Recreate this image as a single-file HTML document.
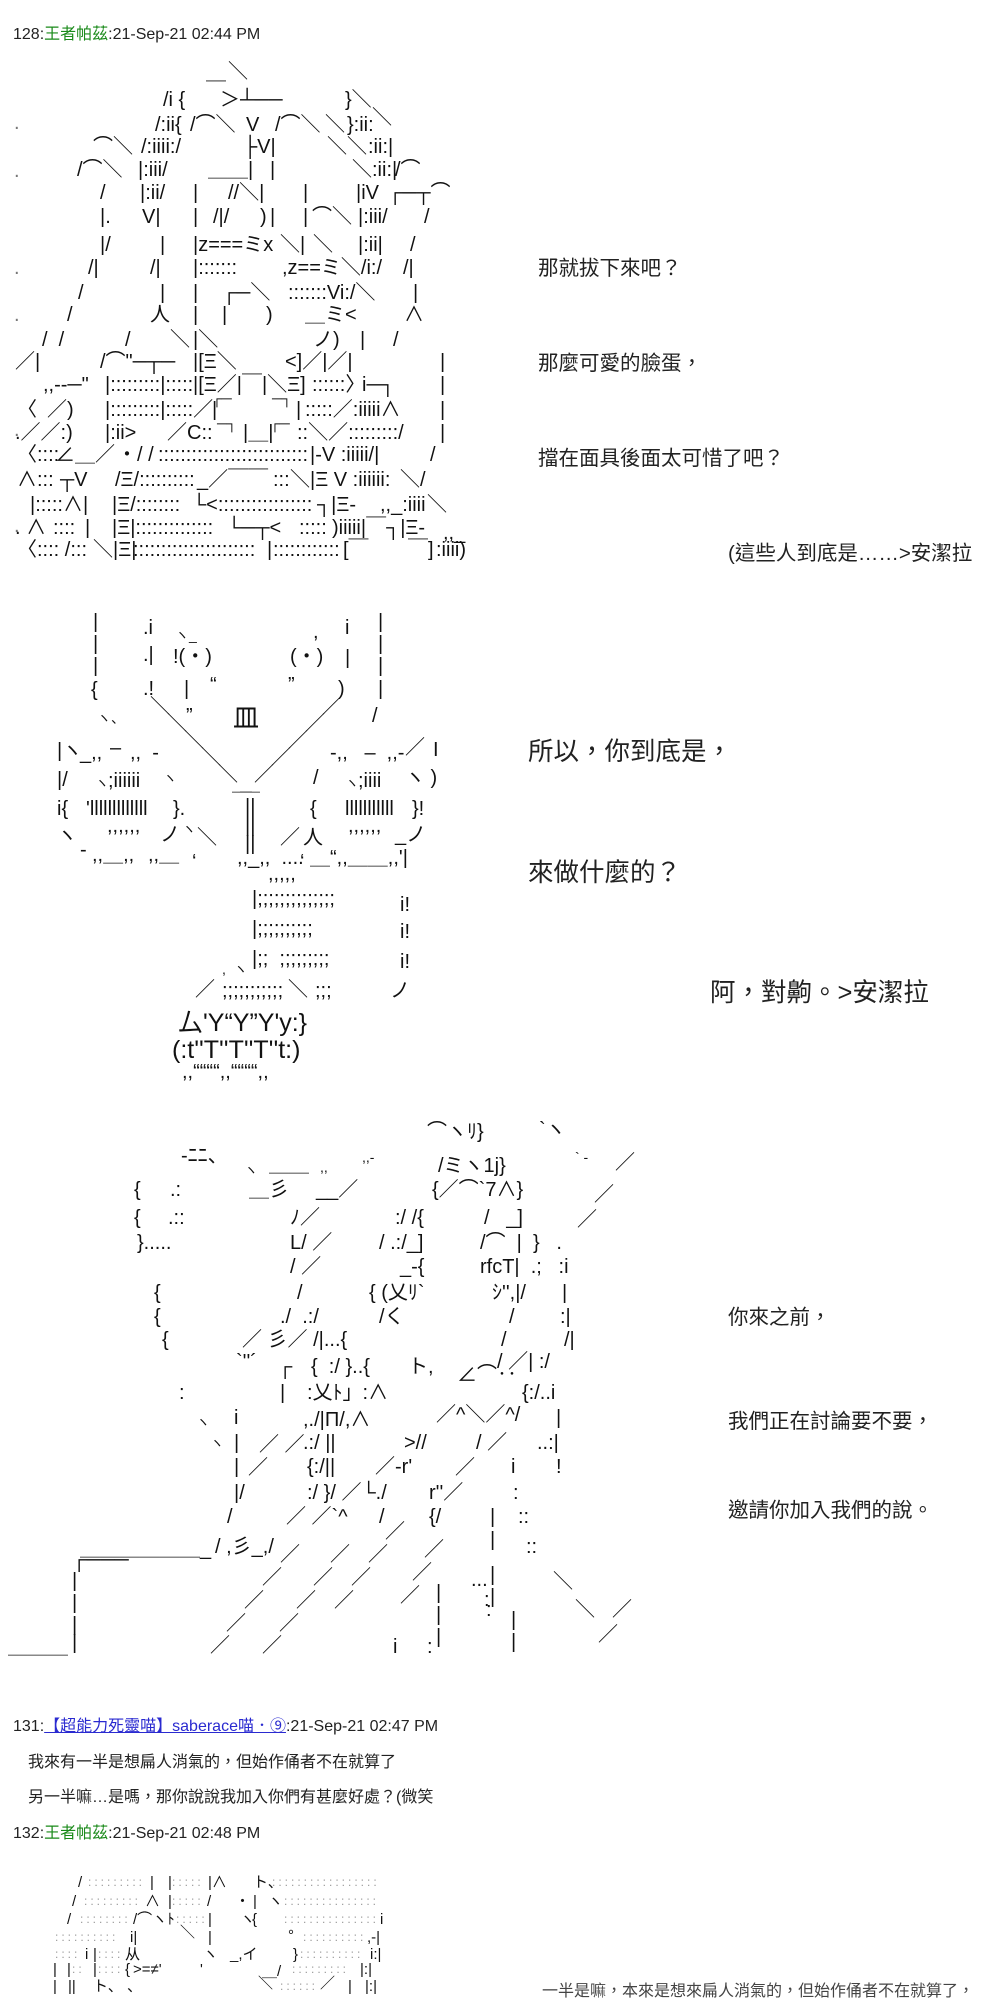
<!DOCTYPE html>
<html><head><meta charset="utf-8">
<style>
html,body{margin:0;padding:0;background:#fff}
#c{position:relative;width:1000px;height:2000px;overflow:hidden;background:#fff}
#c b{position:absolute;white-space:pre;font-weight:normal;line-height:1;font-size:20px;font-family:"Liberation Sans","Noto Sans CJK JP",sans-serif;color:#111}
#c b.s{font-size:14px}
#c b.dt{color:#777}
#c b.y{font-size:25px}
#c b.big{font-size:26px}
#c b.m{font-size:15px}
#c b.d{font-size:12px;color:#999;letter-spacing:3px}
#c b.h{font-size:16px;color:#222;font-family:"Liberation Sans","Noto Sans CJK TC",sans-serif}
#c b.p{font-size:16px;color:#222;font-family:"Liberation Sans","Noto Sans CJK TC",sans-serif}
#c b.c20{font-size:20.5px;color:#222;font-family:"Liberation Sans","Noto Sans CJK TC",sans-serif}
#c b.c26{font-size:25.5px;color:#222;font-family:"Liberation Sans","Noto Sans CJK TC",sans-serif}
#c b.c16{font-size:16px;color:#444;font-family:"Liberation Sans","Noto Sans CJK TC",sans-serif}
.g{color:#1a8a1a}
.lk{color:#2a2ad0;text-decoration:underline}
</style></head><body><div id="c">

<b class="h" style="left:13px;top:27px">128:<span class="g">王者帕茲</span>:21-Sep-21 02:44 PM</b>

<!-- Panel 1 AA -->
<b class="dt" style="left:14px;top:113px">.</b>
<b class="dt" style="left:14px;top:161px">.</b>
<b class="dt" style="left:14px;top:258px">.</b>
<b class="dt" style="left:14px;top:305px">.</b>
<b class="dt" style="left:14px;top:420px">.</b>
<b class="dt" style="left:14px;top:516px">.</b>
<b style="left:228px;top:62px">＼</b>
<b style="left:206px;top:82px">￣</b>
<b style="left:163px;top:90px">/i {</b>
<b style="left:220px;top:90px">＞┴──</b>
<b style="left:345px;top:90px">}＼</b>
<b style="left:155px;top:115px">/:ii{</b>
<b style="left:190px;top:115px">/⌒＼</b>
<b style="left:246px;top:115px">V</b>
<b style="left:275px;top:115px">/⌒＼</b>
<b style="left:325px;top:115px">＼</b>
<b style="left:347px;top:115px">}:ii:</b>
<b style="left:372px;top:108px">＼</b>
<b style="left:93px;top:137px">⌒＼</b>
<b style="left:141px;top:137px">/:iiii:/</b>
<b style="left:243px;top:137px">├V|</b>
<b style="left:327px;top:137px">＼＼</b>
<b style="left:368px;top:137px">:ii:|</b>
<b style="left:77px;top:160px">/⌒＼</b>
<b style="left:138px;top:160px">|:iii/</b>
<b style="left:208px;top:160px">＿＿|</b>
<b style="left:270px;top:160px">|</b>
<b style="left:352px;top:160px">＼:ii:|</b>
<b style="left:395px;top:160px">/⌒</b>
<b style="left:100px;top:183px">/</b>
<b style="left:140px;top:183px">|:ii/</b>
<b style="left:193px;top:183px">|</b>
<b style="left:228px;top:183px">//＼|</b>
<b style="left:303px;top:183px">|</b>
<b style="left:356px;top:183px">|iV</b>
<b style="left:388px;top:183px">┌─┬⌒</b>
<b style="left:100px;top:207px">|.</b>
<b style="left:142px;top:207px">V|</b>
<b style="left:193px;top:207px">|</b>
<b style="left:213px;top:207px">/|/</b>
<b style="left:260px;top:207px">)</b>
<b style="left:270px;top:207px">|</b>
<b style="left:303px;top:207px">|</b>
<b style="left:312px;top:207px">⌒＼</b>
<b style="left:358px;top:207px">|:iii/</b>
<b style="left:424px;top:207px">/</b>
<b style="left:100px;top:235px">|/</b>
<b style="left:160px;top:235px">|</b>
<b style="left:193px;top:235px">|z===ミx</b>
<b style="left:280px;top:235px">＼|</b>
<b style="left:313px;top:235px">＼</b>
<b style="left:358px;top:235px">|:ii|</b>
<b style="left:410px;top:235px">/</b>
<b style="left:88px;top:258px">/|</b>
<b style="left:150px;top:258px">/|</b>
<b style="left:193px;top:258px">|:::::::</b>
<b style="left:282px;top:258px">,z==ミ＼/i:/</b>
<b style="left:403px;top:258px">/|</b>
<b style="left:78px;top:283px">/</b>
<b style="left:160px;top:283px">|</b>
<b style="left:193px;top:283px">|</b>
<b style="left:222px;top:283px">┌─＼</b>
<b style="left:288px;top:283px">:::::::Vi:/＼</b>
<b style="left:413px;top:283px">|</b>
<b style="left:67px;top:305px">/</b>
<b style="left:150px;top:305px">人</b>
<b style="left:193px;top:305px">|</b>
<b style="left:222px;top:305px">|</b>
<b style="left:266px;top:305px">)</b>
<b style="left:305px;top:305px">＿ミ&lt;</b>
<b style="left:404px;top:305px">∧</b>
<b style="left:42px;top:330px">/  /</b>
<b style="left:125px;top:330px">/</b>
<b style="left:170px;top:330px">＼</b>
<b style="left:193px;top:330px">|＼</b>
<b style="left:313px;top:330px">ノ)</b>
<b style="left:360px;top:330px">|</b>
<b style="left:393px;top:330px">/</b>
<b style="left:15px;top:352px">／|</b>
<b style="left:100px;top:352px">/⌒"─┬─</b>
<b style="left:193px;top:352px">|[Ξ＼</b>
<b style="left:285px;top:352px">&lt;]／|／|</b>
<b style="left:440px;top:352px">|</b>
<b style="left:43px;top:375px">,,-‐─"</b>
<b style="left:105px;top:375px">|:::::::::|:::::</b>
<b style="left:193px;top:375px">|[Ξ／|￣|＼Ξ]</b>
<b style="left:312px;top:375px">::::::〉</b>
<b style="left:362px;top:375px">i─┐</b>
<b style="left:440px;top:375px">|</b>
<b style="left:17px;top:400px">〈</b>
<b style="left:47px;top:400px">／)</b>
<b style="left:105px;top:400px">|:::::::::|:::::／</b>
<b class="s" style="left:212px;top:391px">┌─</b>
<b class="s" style="left:272px;top:391px">─┐</b>
<b style="left:212px;top:400px">|</b>
<b style="left:296px;top:400px">|</b>
<b style="left:305px;top:400px">:::::／:iiiii∧</b>
<b style="left:440px;top:400px">|</b>
<b style="left:15px;top:423px">.／／:)</b>
<b style="left:105px;top:423px">|:ii&gt;</b>
<b style="left:167px;top:423px">／C::</b>
<b class="s" style="left:217px;top:416px">─┐</b>
<b style="left:243px;top:423px">|＿|</b>
<b class="s" style="left:270px;top:416px">┌─</b>
<b style="left:297px;top:423px">::＼／:::::::::/</b>
<b style="left:440px;top:423px">|</b>
<b style="left:17px;top:445px">〈::::</b>
<b style="left:55px;top:445px">∠＿／</b>
<b style="left:117px;top:445px">・/ /</b>
<b style="left:158px;top:445px">:::::::::::::::::::::::::::</b>
<b style="left:310px;top:445px">|-V :iiiii/|</b>
<b style="left:430px;top:445px">/</b>
<b style="left:17px;top:470px">∧:::</b>
<b style="left:60px;top:470px">┬V</b>
<b style="left:115px;top:470px">/Ξ/::::::::::</b>
<b style="left:197px;top:470px">_／￣￣</b>
<b style="left:273px;top:470px">:::</b>
<b style="left:290px;top:470px">＼|Ξ V :iiiiii:</b>
<b style="left:400px;top:470px">＼/</b>
<b style="left:30px;top:495px">|:::::∧|</b>
<b style="left:112px;top:495px">|Ξ/::::::::</b>
<b style="left:192px;top:495px">└&lt;:::::::::::::::::</b>
<b style="left:317px;top:495px">┐|Ξ-</b>
<b style="left:380px;top:495px">,,_:iiii</b>
<b style="left:427px;top:495px">＼</b>
<b style="left:15px;top:518px">. ∧</b>
<b style="left:53px;top:518px">::::</b>
<b style="left:85px;top:518px">|</b>
<b style="left:112px;top:518px">|Ξ|::::::::::::::</b>
<b style="left:227px;top:518px">└─┬&lt;</b>
<b style="left:299px;top:518px">:::::</b>
<b style="left:332px;top:518px">)iiiii|￣┐|Ξ-</b>
<b style="left:443px;top:523px">,,_</b>
<b style="left:17px;top:540px">〈:::: /:::</b>
<b style="left:93px;top:540px">＼|Ξ|</b>
<b style="left:133px;top:540px">::::::::::::::::::::::</b>
<b style="left:267px;top:540px">|</b>
<b style="left:273px;top:540px">::::::::::::</b>
<b style="left:343px;top:540px">[￣</b>
<b style="left:408px;top:540px">￣]</b>
<b style="left:436px;top:540px">:iiii)</b>

<b class="c20" style="left:538px;top:259px">那就拔下來吧？</b>
<b class="c20" style="left:538px;top:354px">那麼可愛的臉蛋，</b>
<b class="c20" style="left:538px;top:449px">擋在面具後面太可惜了吧？</b>
<b class="c20" style="left:728px;top:544px">(這些人到底是……&gt;安潔拉</b>

<!-- Panel 2 AA -->
<b style="left:93px;top:612px">|</b>
<b style="left:93px;top:634px">|</b>
<b style="left:93px;top:656px">|</b>
<b style="left:91px;top:680px">{</b>
<b style="left:378px;top:612px">|</b>
<b style="left:378px;top:634px">|</b>
<b style="left:378px;top:656px">|</b>
<b style="left:378px;top:679px">|</b>
<b style="left:372px;top:706px">/</b>
<b style="left:143px;top:618px">.i</b>
<b style="left:143px;top:645px">.|</b>
<b style="left:143px;top:679px">.!</b>
<b class="s" style="left:175px;top:628px">ヽ_</b>
<b style="left:173px;top:647px">!(・)</b>
<b style="left:184px;top:679px">|</b>
<b style="left:210px;top:675px">“</b>
<b style="left:186px;top:706px">”</b>
<b style="left:313px;top:622px">,</b>
<b style="left:290px;top:647px">(・)</b>
<b style="left:288px;top:675px">”</b>
<b style="left:345px;top:618px">i</b>
<b style="left:345px;top:648px">|</b>
<b style="left:338px;top:679px">)</b>
<b class="s" style="left:97px;top:711px">ヽ、</b>
<b class="big" style="left:233px;top:705px">皿</b>
<b style="left:150px;top:697px">＼</b>
<b style="left:167px;top:714px">＼</b>
<b style="left:184px;top:731px">＼</b>
<b style="left:201px;top:748px">＼</b>
<b style="left:218px;top:765px">＼</b>
<b style="left:322px;top:697px">／</b>
<b style="left:305px;top:714px">／</b>
<b style="left:288px;top:731px">／</b>
<b style="left:271px;top:748px">／</b>
<b style="left:254px;top:765px">／</b>
<b style="left:232px;top:774px">＿</b>
<b style="left:240px;top:774px">＿</b>
<b style="left:245px;top:797px">||</b>
<b style="left:245px;top:816px">||</b>
<b style="left:245px;top:834px">||</b>
<b style="left:197px;top:828px">＼</b>
<b style="left:280px;top:828px">／</b>
<b style="left:57px;top:741px">|ヽ</b>
<b style="left:80px;top:743px">_,,</b>
<b style="left:110px;top:738px">–</b>
<b style="left:130px;top:743px">,,  -</b>
<b style="left:57px;top:770px">|/</b>
<b class="s" style="left:95px;top:776px">ヽ</b>
<b style="left:108px;top:771px">;iiiiii</b>
<b class="s" style="left:163px;top:771px">ヽ</b>
<b style="left:57px;top:799px">i{</b>
<b style="left:86px;top:799px">'lllllllllllll</b>
<b style="left:173px;top:799px">}.</b>
<b style="left:57px;top:826px">ヽ</b>
<b style="left:107px;top:816px">,,,,,,</b>
<b style="left:160px;top:825px">ノ</b>
<b class="s" style="left:182px;top:822px">ヽ</b>
<b style="left:80px;top:840px">-</b>
<b style="left:92px;top:845px">,,＿,,</b>
<b style="left:148px;top:845px">,,＿</b>
<b style="left:192px;top:852px">‘</b>
<b style="left:330px;top:743px">-,,   –  ,,-</b>
<b style="left:405px;top:738px">／</b>
<b style="left:433px;top:740px">I</b>
<b style="left:313px;top:768px">/</b>
<b class="s" style="left:345px;top:776px">ヽ</b>
<b style="left:358px;top:771px">;iiii</b>
<b style="left:405px;top:768px">ヽ )</b>
<b style="left:310px;top:799px">{</b>
<b style="left:345px;top:799px">lllllllllll</b>
<b style="left:412px;top:799px">}!</b>
<b style="left:303px;top:828px">人</b>
<b style="left:348px;top:816px">,,,,,,</b>
<b style="left:395px;top:825px">_ノ</b>
<b style="left:237px;top:848px">,,_,,  ....</b>
<b style="left:300px;top:852px">‘</b>
<b style="left:310px;top:848px">＿“,,＿＿,,'|</b>
<b style="left:268px;top:864px">,,,,,</b>
<b style="left:252px;top:889px">|;;;;;;;;;;;;;;</b>
<b style="left:252px;top:919px">|;;;;;;;;;;</b>
<b style="left:252px;top:949px">|;;  ;;;;;;;;;</b>
<b style="left:400px;top:895px">i!</b>
<b style="left:400px;top:922px">i!</b>
<b style="left:400px;top:952px">i!</b>
<b style="left:390px;top:981px">ノ</b>
<b class="s" style="left:222px;top:962px">,  ヽ</b>
<b style="left:195px;top:980px">／</b>
<b style="left:222px;top:981px">;;;;;;;;;;;</b>
<b style="left:288px;top:980px">＼</b>
<b style="left:315px;top:981px">;;;</b>
<b class="y" style="left:178px;top:1011px">厶'Y“Y”Y'y:}</b>
<b class="y" style="left:172px;top:1038px">(:t''T''T''T''t:)</b>
<b style="left:182px;top:1062px">,,““““,,““““,,</b>

<b class="c26" style="left:528px;top:740px">所以，你到底是，</b>
<b class="c26" style="left:528px;top:861px">來做什麼的？</b>
<b class="c26" style="left:710px;top:981px">阿，對齁。&gt;安潔拉</b>

<!-- Panel 3 AA -->
<b style="left:427px;top:1122px">⌒ヽﾘ}</b>
<b style="left:539px;top:1120px">`ヽ</b>
<b style="left:181px;top:1146px">‐ﾆﾆ、</b>
<b class="s" style="left:362px;top:1150px">,,‐</b>
<b style="left:438px;top:1156px">/ミヽ1j}</b>
<b class="s" style="left:575px;top:1150px">` ‐</b>
<b style="left:615px;top:1153px">／</b>
<b class="s" style="left:244px;top:1163px">ヽ</b>
<b style="left:269px;top:1155px">＿＿</b>
<b class="s" style="left:320px;top:1160px">,,</b>
<b style="left:134px;top:1180px">{</b>
<b style="left:170px;top:1180px">.:</b>
<b style="left:249px;top:1180px">＿彡</b>
<b style="left:316px;top:1180px">__／</b>
<b style="left:432px;top:1180px">{／⌒`7∧}</b>
<b style="left:594px;top:1185px">／</b>
<b style="left:134px;top:1208px">{</b>
<b style="left:168px;top:1208px">.::</b>
<b style="left:290px;top:1208px">ﾉ／</b>
<b style="left:395px;top:1208px">:/ /{</b>
<b style="left:484px;top:1208px">/   _]</b>
<b style="left:577px;top:1210px">／</b>
<b style="left:137px;top:1233px">}.....</b>
<b style="left:290px;top:1233px">L/ ／</b>
<b style="left:379px;top:1233px">/ .:/_]</b>
<b style="left:480px;top:1233px">/⌒  |  }   .</b>
<b style="left:290px;top:1257px">/ ／</b>
<b style="left:400px;top:1257px">_-{</b>
<b style="left:480px;top:1257px">rfcT|  .;   :i</b>
<b style="left:154px;top:1283px">{</b>
<b style="left:297px;top:1283px">/</b>
<b style="left:369px;top:1283px">{ (乂ﾘ`</b>
<b style="left:492px;top:1283px">ｼ'',|/</b>
<b style="left:562px;top:1283px">|</b>
<b style="left:154px;top:1307px">{</b>
<b style="left:280px;top:1307px">./  .:/</b>
<b style="left:379px;top:1307px">/く</b>
<b style="left:509px;top:1307px">/</b>
<b style="left:560px;top:1307px">:|</b>
<b style="left:162px;top:1330px">{</b>
<b style="left:242px;top:1330px">／ 彡／ /|...{</b>
<b style="left:501px;top:1330px">/</b>
<b style="left:564px;top:1330px">/|</b>
<b style="left:236px;top:1352px">`''´</b>
<b style="left:278px;top:1357px">┌</b>
<b style="left:311px;top:1357px">{  :/ }..{</b>
<b style="left:408px;top:1357px">ト,</b>
<b style="left:457px;top:1365px">∠⌒‥</b>
<b style="left:497px;top:1352px">/ ／| :/</b>
<b style="left:179px;top:1383px">:</b>
<b style="left:280px;top:1383px">|</b>
<b style="left:307px;top:1383px">:乂ﾄ」:∧</b>
<b style="left:522px;top:1383px">{:/..i</b>
<b class="s" style="left:196px;top:1415px">ヽ</b>
<b style="left:234px;top:1408px">i</b>
<b style="left:303px;top:1410px">,./|Π/,∧</b>
<b style="left:436px;top:1405px">／^＼／^/</b>
<b style="left:556px;top:1408px">|</b>
<b class="s" style="left:210px;top:1436px">ヽ</b>
<b style="left:234px;top:1433px">|</b>
<b style="left:259px;top:1435px">／ ／</b>
<b style="left:303px;top:1433px">.:/ ||</b>
<b style="left:404px;top:1433px">&gt;//</b>
<b style="left:476px;top:1433px">/ ／</b>
<b style="left:537px;top:1433px">..:|</b>
<b style="left:234px;top:1457px">|</b>
<b style="left:248px;top:1458px">／</b>
<b style="left:307px;top:1457px">{:/||</b>
<b style="left:375px;top:1457px">／-r'</b>
<b style="left:455px;top:1458px">／</b>
<b style="left:511px;top:1457px">i</b>
<b style="left:556px;top:1457px">!</b>
<b style="left:234px;top:1483px">|/</b>
<b style="left:307px;top:1483px">:/ }/ ／└./</b>
<b style="left:429px;top:1483px">r''／</b>
<b style="left:513px;top:1483px">:</b>
<b style="left:227px;top:1507px">/</b>
<b style="left:286px;top:1507px">／ ／`^</b>
<b style="left:379px;top:1507px">/</b>
<b style="left:429px;top:1507px">{/</b>
<b style="left:490px;top:1507px">|</b>
<b style="left:518px;top:1507px">::</b>
<b style="left:80px;top:1539px">＿＿＿＿＿＿_</b>
<b style="left:215px;top:1537px">/ ,彡_,/</b>
<b style="left:72px;top:1550px">┌───</b>
<b style="left:72px;top:1571px">|</b>
<b style="left:72px;top:1593px">|</b>
<b style="left:72px;top:1615px">|</b>
<b style="left:72px;top:1633px">|</b>
<b style="left:8px;top:1637px">＿＿＿</b>
<b style="left:490px;top:1530px">|</b>
<b style="left:490px;top:1565px">|</b>
<b style="left:490px;top:1587px">|</b>
<b style="left:526px;top:1537px">::</b>
<b style="left:471px;top:1570px">...</b>
<b style="left:486px;top:1600px">:</b>
<b style="left:280px;top:1545px">／</b>
<b style="left:262px;top:1568px">／</b>
<b style="left:244px;top:1591px">／</b>
<b style="left:226px;top:1614px">／</b>
<b style="left:210px;top:1636px">／</b>
<b style="left:330px;top:1545px">／</b>
<b style="left:313px;top:1568px">／</b>
<b style="left:296px;top:1591px">／</b>
<b style="left:279px;top:1614px">／</b>
<b style="left:262px;top:1636px">／</b>
<b style="left:385px;top:1522px">／</b>
<b style="left:368px;top:1545px">／</b>
<b style="left:351px;top:1568px">／</b>
<b style="left:334px;top:1591px">／</b>
<b style="left:424px;top:1540px">／</b>
<b style="left:412px;top:1563px">／</b>
<b style="left:400px;top:1586px">／</b>
<b style="left:436px;top:1583px">|</b>
<b style="left:436px;top:1605px">|</b>
<b style="left:436px;top:1627px">|</b>
<b style="left:427px;top:1637px">:</b>
<b style="left:393px;top:1637px">i</b>
<b style="left:511px;top:1610px">|</b>
<b style="left:511px;top:1632px">|</b>
<b style="left:484px;top:1590px">:</b>
<b style="left:553px;top:1572px">＼</b>
<b style="left:575px;top:1600px">＼</b>
<b style="left:612px;top:1600px">／</b>
<b style="left:598px;top:1625px">／</b>

<b class="c20" style="left:728px;top:1308px">你來之前，</b>
<b class="c20" style="left:728px;top:1412px">我們正在討論要不要，</b>
<b class="c20" style="left:728px;top:1501px">邀請你加入我們的說。</b>

<!-- Posts -->
<b class="h" style="left:13px;top:1719px">131:<span class="lk">【超能力死靈喵】saberace喵．⑨</span>:21-Sep-21 02:47 PM</b>
<b class="p" style="left:28px;top:1755px">我來有一半是想扁人消氣的，但始作俑者不在就算了</b>
<b class="p" style="left:28px;top:1790px">另一半嘛…是嗎，那你說說我加入你們有甚麼好處？(微笑</b>
<b class="h" style="left:13px;top:1826px">132:<span class="g">王者帕茲</span>:21-Sep-21 02:48 PM</b>

<!-- Panel 4 AA -->
<b class="m" style="left:78px;top:1875px">/</b>
<b class="d" style="left:88px;top:1876px">:::::::::</b>
<b class="m" style="left:150px;top:1875px">|</b>
<b class="m" style="left:168px;top:1875px">|</b>
<b class="d" style="left:172px;top:1876px">:::::</b>
<b class="m" style="left:208px;top:1875px">|∧</b>
<b class="m" style="left:253px;top:1875px">ト、</b>
<b class="d" style="left:272px;top:1876px">:::::::::::::::::</b>
<b class="m" style="left:72px;top:1894px">/</b>
<b class="d" style="left:84px;top:1895px">:::::::::</b>
<b class="m" style="left:145px;top:1894px">∧</b>
<b class="m" style="left:168px;top:1894px">|</b>
<b class="d" style="left:172px;top:1895px">:::::</b>
<b class="m" style="left:207px;top:1894px">/</b>
<b class="m" style="left:235px;top:1894px">・</b>
<b class="m" style="left:253px;top:1894px">|</b>
<b class="m" style="left:268px;top:1894px">ヽ</b>
<b class="d" style="left:284px;top:1895px">:::::::::::::::</b>
<b class="m" style="left:67px;top:1912px">/</b>
<b class="d" style="left:80px;top:1913px">::::::::</b>
<b class="m" style="left:133px;top:1912px">/⌒ヽﾄ</b>
<b class="d" style="left:176px;top:1913px">:::::</b>
<b class="m" style="left:208px;top:1912px">|</b>
<b class="m" style="left:240px;top:1912px">ヽ</b>
<b class="m" style="left:252px;top:1912px">{</b>
<b class="d" style="left:284px;top:1913px">:::::::::::::::</b>
<b class="m" style="left:380px;top:1912px">i</b>
<b class="d" style="left:55px;top:1931px">::::::::::</b>
<b class="m" style="left:130px;top:1930px">i|</b>
<b class="m" style="left:180px;top:1925px">＼</b>
<b class="m" style="left:208px;top:1930px">|</b>
<b class="m" style="left:288px;top:1928px">°</b>
<b class="d" style="left:303px;top:1931px">::::::::::</b>
<b class="m" style="left:367px;top:1930px">,-|</b>
<b class="d" style="left:55px;top:1948px">::::</b>
<b class="m" style="left:85px;top:1947px">i</b>
<b class="m" style="left:93px;top:1947px">|</b>
<b class="d" style="left:98px;top:1948px">::::</b>
<b class="m" style="left:125px;top:1947px">从</b>
<b class="m" style="left:203px;top:1947px">ヽ</b>
<b class="m" style="left:230px;top:1947px">_,イ</b>
<b class="m" style="left:293px;top:1947px">}</b>
<b class="d" style="left:300px;top:1948px">::::::::::</b>
<b class="m" style="left:370px;top:1947px">i:|</b>
<b class="m" style="left:53px;top:1962px">|</b>
<b class="m" style="left:67px;top:1962px">|</b>
<b class="d" style="left:72px;top:1963px">::</b>
<b class="m" style="left:93px;top:1962px">|</b>
<b class="d" style="left:98px;top:1963px">::::</b>
<b class="m" style="left:125px;top:1962px">{</b>
<b class="m" style="left:133px;top:1962px">&gt;=≠'</b>
<b class="m" style="left:200px;top:1962px">'</b>
<b class="m" style="left:262px;top:1964px">＿/</b>
<b class="d" style="left:292px;top:1963px">:::::::::</b>
<b class="m" style="left:360px;top:1962px">|:|</b>
<b class="m" style="left:53px;top:1979px">|</b>
<b class="m" style="left:68px;top:1979px">||</b>
<b class="m" style="left:93px;top:1979px">ト、</b>
<b class="m" style="left:127px;top:1979px">、</b>
<b class="m" style="left:258px;top:1976px">＼</b>
<b class="d" style="left:280px;top:1980px">::::::</b>
<b class="m" style="left:320px;top:1976px">／</b>
<b class="m" style="left:348px;top:1979px">|</b>
<b class="m" style="left:365px;top:1979px">|:|</b>

<b class="c16" style="left:542px;top:1984px">一半是嘛，本來是想來扁人消氣的，但始作俑者不在就算了，</b>

</div></body></html>
